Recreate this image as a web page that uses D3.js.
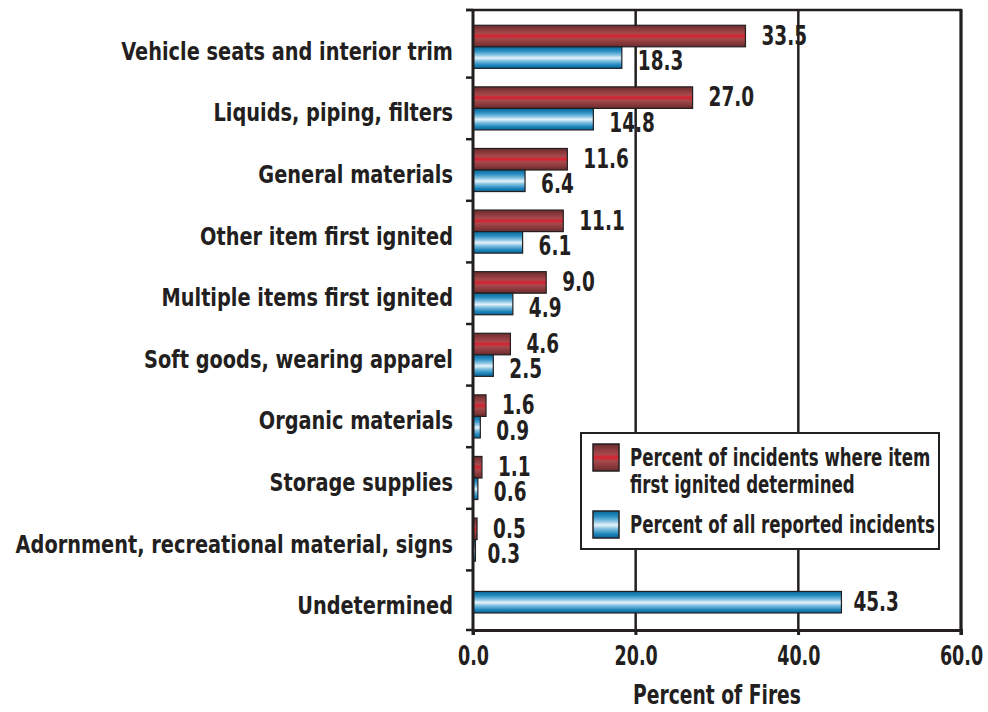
<!DOCTYPE html>
<html lang="en">
<head>
<meta charset="UTF-8">
<title>Item first ignited</title>
<script src="https://cdn.jsdelivr.net/npm/d3@7"></script>
<style>
  body { margin: 0; background: #fff; }
  svg { display: block; }
  text { font-family: "Liberation Sans Narrow", "DejaVu Sans Condensed", sans-serif; font-weight: bold; fill: #231f20; }
</style>
</head>
<body>
<svg id="chart" width="988" height="712"></svg>
<script>
const categories = [
  "Vehicle seats and interior trim",
  "Liquids, piping, filters",
  "General materials",
  "Other item first ignited",
  "Multiple items first ignited",
  "Soft goods, wearing apparel",
  "Organic materials",
  "Storage supplies",
  "Adornment, recreational material, signs",
  "Undetermined"
]
const determined = [33.5, 27.0, 11.6, 11.1, 9.0, 4.6, 1.6, 1.1, 0.5, null]
const allReported = [18.3, 14.8, 6.4, 6.1, 4.9, 2.5, 0.9, 0.6, 0.3, 45.3]
const xTicks = [0, 20, 40, 60]
const seriesNames = [
  ["Percent of incidents where item", "first ignited determined"],
  ["Percent of all reported incidents"]
]

const svg = d3.select('#chart')
const plotLeft = 473, plotRight = 961, plotTop = 10, plotBottom = 630

const x = d3.scaleLinear().domain([0, 60]).range([plotLeft, plotRight])
const y = d3.scaleBand().domain(categories).range([16, 632])
const ySub = d3.scaleBand().domain(['red', 'blue']).range([0, y.bandwidth()]).paddingOuter(0.43)

// squeeze text horizontally (condensed look) around its anchor point
function squeeze(sel, k) {
  sel.each(function () {
    const t = d3.select(this)
    const tx = +t.attr('x') || 0, ty = +t.attr('y') || 0
    t.attr('transform', `translate(${tx},${ty}) scale(${k},1) translate(${-tx},${-ty})`)
  })
}

// gradients
const defs = svg.append('defs')
function grad(id, stops) {
  const g = defs.append('linearGradient').attr('id', id)
    .attr('x1', 0).attr('x2', 0).attr('y1', 0).attr('y2', 1)
  stops.forEach(s => g.append('stop').attr('offset', s[0]).attr('stop-color', s[1]))
}
grad('redGrad', [[0, '#6a2a2c'], [0.2, '#8c3b3d'], [0.38, '#a8484c'], [0.5, '#d8202f'], [0.62, '#a8484c'], [0.8, '#8c3b3d'], [1, '#6a2a2c']])
grad('blueGrad', [[0, '#06679a'], [0.2, '#2a8fc2'], [0.38, '#86c3e2'], [0.52, '#e6f3fa'], [0.66, '#7dbfe0'], [0.85, '#1f86bb'], [1, '#05639a']])

// gridlines
svg.append('g').selectAll('line')
  .data(xTicks.slice(1))
  .join('line')
  .attr('x1', d => x(d)).attr('x2', d => x(d))
  .attr('y1', plotTop).attr('y2', plotBottom + 5)
  .attr('stroke', '#231f20').attr('stroke-width', 2.5)

// top frame
svg.append('line')
  .attr('x1', plotLeft - 7).attr('x2', plotRight + 1)
  .attr('y1', plotTop).attr('y2', plotTop)
  .attr('stroke', '#231f20').attr('stroke-width', 2.5)

// bars
const rows = categories.map((c, i) => ({ c, red: determined[i], blue: allReported[i] }))

const g = svg.append('g')
rows.forEach(r => {
  const y0 = y(r.c)
  const single = r.red == null
  const bars = []
  if (!single) bars.push({ key: 'red', v: r.red, y: y0 + ySub('red') })
  bars.push({ key: 'blue', v: r.blue, y: single ? y0 + (y.bandwidth() - ySub.bandwidth()) / 2 + 1 : y0 + ySub('blue') })

  g.selectAll(null)
    .data(bars)
    .join('rect')
    .attr('x', x(0))
    .attr('y', d => d.y)
    .attr('width', d => x(d.v) - x(0))
    .attr('height', ySub.bandwidth())
    .attr('fill', d => d.key === 'red' ? 'url(#redGrad)' : 'url(#blueGrad)')
    .attr('stroke', '#231f20')
    .attr('stroke-width', 1.2)

  g.selectAll(null)
    .data(bars)
    .join('text')
    .attr('x', d => x(d.v) + (d.v < 0.5 || d.v > 40 ? 12 : 16))
    .attr('y', d => d.y + ySub.bandwidth() / 2 + (d.key === 'blue' && !single ? 3 : -1))
    .attr('dy', '0.36em')
    .attr('font-size', 27)
    .text(d => d.v.toFixed(1))
    .call(squeeze, 0.76)
})

// left axis
svg.append('line')
  .attr('x1', plotLeft).attr('x2', plotLeft)
  .attr('y1', plotTop - 1).attr('y2', plotBottom + 5)
  .attr('stroke', '#231f20').attr('stroke-width', 3)

const yTickPos = [plotTop].concat(categories.slice(1).map(c => y(c))).concat([plotBottom])
svg.append('g').selectAll('line')
  .data(yTickPos)
  .join('line')
  .attr('x1', plotLeft - 7).attr('x2', plotLeft)
  .attr('y1', d => d).attr('y2', d => d)
  .attr('stroke', '#231f20').attr('stroke-width', 2.5)

svg.append('g').selectAll('text')
  .data(categories)
  .join('text')
  .attr('x', 453)
  .attr('y', d => y(d) + y.bandwidth() / 2 + 4)
  .attr('dy', '0.36em')
  .attr('text-anchor', 'end')
  .attr('font-size', 25)
  .text(d => d)
  .call(squeeze, 0.86)

// bottom axis
const xAxis = d3.axisBottom(x).tickValues(xTicks).tickFormat(d3.format('.1f')).tickSize(5).tickPadding(9)
const ax = svg.append('g').attr('transform', `translate(0,${plotBottom})`).call(xAxis)
ax.attr('font-family', null)
ax.select('.domain').attr('stroke', '#231f20').attr('stroke-width', 3)
ax.selectAll('.tick line').attr('stroke', '#231f20').attr('stroke-width', 2.5)
ax.selectAll('.tick text').attr('font-size', 26).attr('fill', '#231f20')
  .attr('x', 0).attr('y', 17).call(squeeze, 0.75)

// right frame
svg.append('line')
  .attr('x1', plotRight).attr('x2', plotRight)
  .attr('y1', plotTop - 1).attr('y2', plotBottom + 5)
  .attr('stroke', '#231f20').attr('stroke-width', 3)

svg.append('text')
  .attr('x', (plotLeft + plotRight) / 2).attr('y', 704)
  .attr('text-anchor', 'middle')
  .attr('font-size', 26)
  .text('Percent of Fires')
  .call(squeeze, 0.8)

// legend
const lg = svg.append('g')
lg.append('rect')
  .attr('x', 581).attr('y', 433).attr('width', 358).attr('height', 116)
  .attr('fill', '#fff').attr('stroke', '#231f20').attr('stroke-width', 2)

const legendY = [444, 511]
lg.selectAll('rect.sw')
  .data(['redGrad', 'blueGrad'])
  .join('rect')
  .attr('class', 'sw')
  .attr('x', 593).attr('y', (d, i) => legendY[i])
  .attr('width', 26).attr('height', 27)
  .attr('fill', d => `url(#${d})`)
  .attr('stroke', '#231f20').attr('stroke-width', 1.5)

lg.selectAll('text')
  .data(seriesNames)
  .join('text')
  .attr('x', 630)
  .attr('y', (d, i) => [466, 533][i])
  .attr('font-size', 24)
  .each(function (d) {
    d3.select(this).selectAll('tspan')
      .data(d)
      .join('tspan')
      .attr('x', 630)
      .attr('dy', (t, j) => j === 0 ? 0 : 27)
      .text(t => t)
  })
  .call(squeeze, 0.77)
</script>
</body>
</html>
